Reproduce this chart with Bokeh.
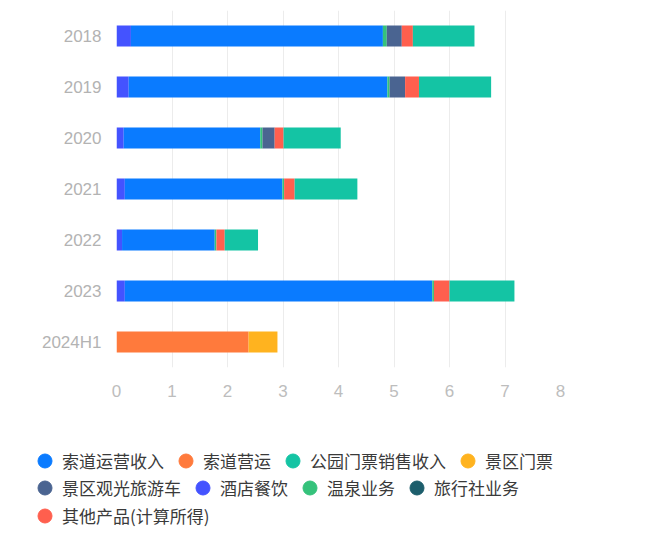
from bokeh.plotting import figure
from bokeh.layouts import column
from bokeh.models import ColumnDataSource, Legend, LegendItem, Range1d, FactorRange
from bokeh.embed import file_html
from bokeh.resources import INLINE

years = ['2018', '2019', '2020', '2021', '2022', '2023', '2024H1']

hotel = [0.26, 0.22, 0.13, 0.15, 0.10, 0.15, 0.0]           # 酒店餐饮
ropeway = [4.54, 4.66, 2.46, 2.84, 1.67, 5.54, 0.0]         # 索道运营收入
ropeway_ops = [0.0, 0.0, 0.0, 0.0, 0.0, 0.0, 2.38]          # 索道营运
hotspring = [0.07, 0.04, 0.04, 0.03, 0.03, 0.03, 0.0]       # 温泉业务
sightseeing_bus = [0.27, 0.28, 0.22, 0.0, 0.0, 0.0, 0.0]    # 景区观光旅游车
travel_agency = [0.0, 0.0, 0.0, 0.0, 0.0, 0.0, 0.0]         # 旅行社业务
other = [0.20, 0.25, 0.16, 0.19, 0.15, 0.28, 0.0]           # 其他产品(计算所得)
park_tickets = [1.11, 1.30, 1.03, 1.13, 0.60, 1.17, 0.0]    # 公园门票销售收入
scenic_tickets = [0.0, 0.0, 0.0, 0.0, 0.0, 0.0, 0.52]       # 景区门票

x_ticks = [0, 1, 2, 3, 4, 5, 6, 7, 8]

series_names = ['索道运营收入', '索道营运', '公园门票销售收入', '景区门票',
                '景区观光旅游车', '酒店餐饮', '温泉业务', '旅行社业务', '其他产品(计算所得)']
series_colors = {
    '索道运营收入': '#0A7BFF',
    '索道营运': '#FF7A3C',
    '公园门票销售收入': '#14C4A4',
    '景区门票': '#FFB31F',
    '景区观光旅游车': '#4A6491',
    '酒店餐饮': '#4453FF',
    '温泉业务': '#35C27B',
    '旅行社业务': '#1D5E6C',
    '其他产品(计算所得)': '#FF5F4E',
}
legend_rows = [
    ['索道运营收入', '索道营运', '公园门票销售收入', '景区门票'],
    ['景区观光旅游车', '酒店餐饮', '温泉业务', '旅行社业务'],
    ['其他产品(计算所得)'],
]

data = {
    'year': years,
    '酒店餐饮': hotel,
    '索道运营收入': ropeway,
    '索道营运': ropeway_ops,
    '温泉业务': hotspring,
    '景区观光旅游车': sightseeing_bus,
    '旅行社业务': travel_agency,
    '其他产品(计算所得)': other,
    '公园门票销售收入': park_tickets,
    '景区门票': scenic_tickets,
}
stack_order = ['酒店餐饮', '索道运营收入', '索道营运', '温泉业务', '景区观光旅游车',
               '旅行社业务', '其他产品(计算所得)', '公园门票销售收入', '景区门票']

source = ColumnDataSource(data)

p = figure(width=644, height=410, output_backend="svg", toolbar_location=None,
           x_range=Range1d(0, 8), y_range=FactorRange(factors=years[::-1]),
           min_border_left=116, min_border_right=84, min_border_top=10,
           min_border_bottom=43)
p.outline_line_color = None
p.frame_align = False

p.hbar_stack(stack_order, y='year', height=0.41, source=source,
             fill_color=[series_colors[k] for k in stack_order], line_color=None)

# axes
p.xaxis.ticker = x_ticks
p.xaxis.axis_line_color = None
p.xaxis.major_tick_line_color = None
p.xaxis.minor_tick_line_color = None
p.xaxis.major_tick_out = 0
p.xaxis.major_label_standoff = 17
p.xaxis.major_label_text_font = "Liberation Sans"
p.xaxis.major_label_text_font_size = "17px"
p.xaxis.major_label_text_color = "#bdbdbd"

p.yaxis.axis_line_color = None
p.yaxis.major_tick_line_color = None
p.yaxis.minor_tick_line_color = None
p.yaxis.major_tick_out = 0
p.yaxis.major_label_standoff = 15
p.yaxis.major_label_text_font = "Liberation Sans"
p.yaxis.major_label_text_font_size = "17px"
p.yaxis.major_label_text_color = "#b3b3b3"

p.ygrid.grid_line_color = None
p.xgrid.grid_line_color = "#ececec"
p.xgrid.grid_line_width = 1

# legend figure (circle markers; renderers hold no visible point)
lf = figure(width=644, height=123, output_backend="svg", toolbar_location=None,
            x_range=Range1d(0, 1), y_range=Range1d(0, 1),
            min_border_left=0, min_border_right=0, min_border_top=0,
            min_border_bottom=0)
lf.axis.visible = False
lf.grid.visible = False
lf.outline_line_color = None
lf.frame_align = False

nan = float("nan")
dummy = {}
for name in series_names:
    dummy[name] = lf.scatter(x=[nan], y=[nan], marker="circle",
                             color=series_colors[name])

row_offsets = [55, 28, 0]
for row, vy in zip(legend_rows, row_offsets):
    lg = Legend(items=[LegendItem(label=n, renderers=[dummy[n]]) for n in row],
                orientation="horizontal", location=(27, vy),
                glyph_width=35, glyph_height=35, label_standoff=0, spacing=4,
                padding=0, margin=0, border_line_color=None,
                background_fill_alpha=0,
                label_text_font="Noto Sans CJK SC", label_text_font_size="17px",
                label_text_color="#3a3a3a")
    lf.add_layout(lg)

layout = column(p, lf, spacing=0)
open("out.html", "w").write(file_html(layout, INLINE))
